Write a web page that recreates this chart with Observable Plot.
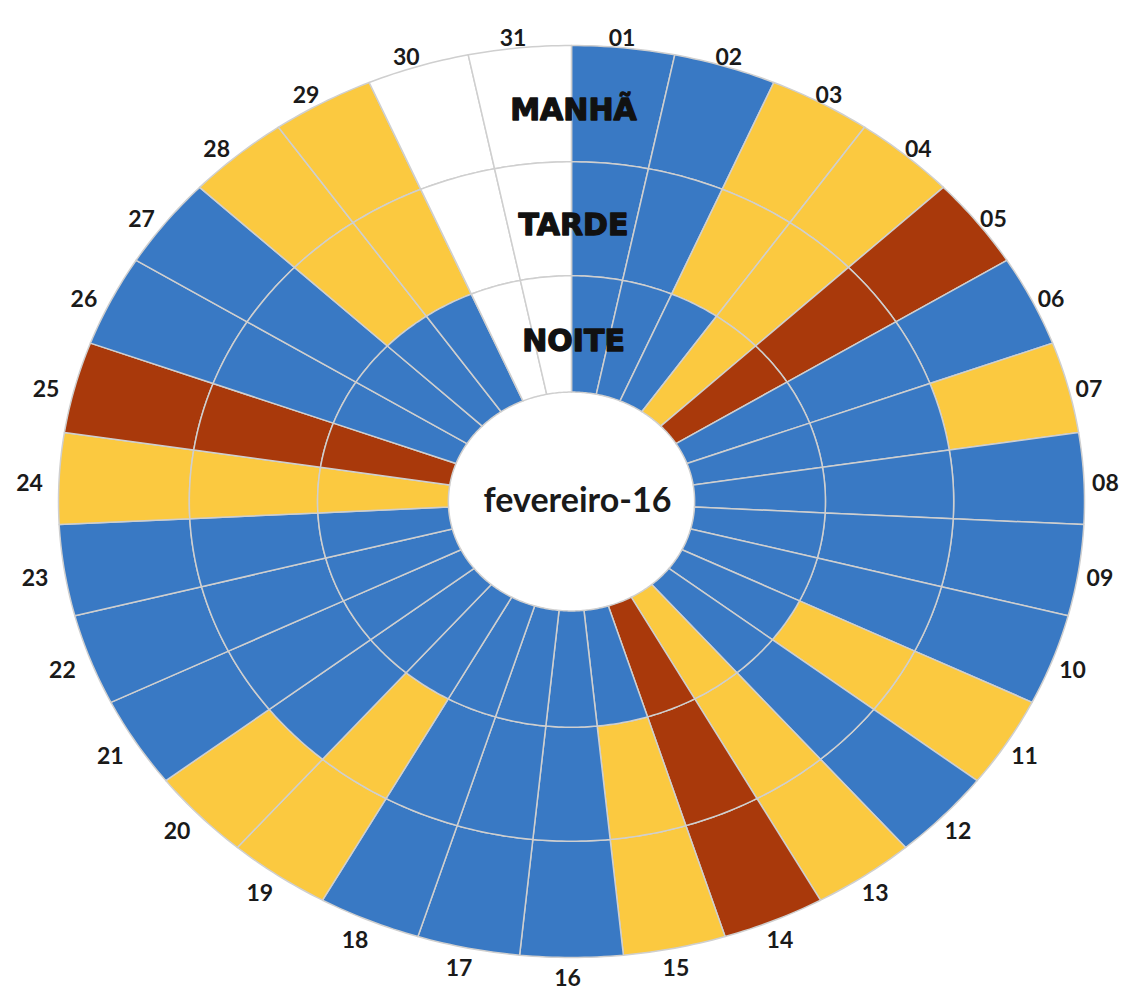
<!DOCTYPE html>
<html>
<head>
<meta charset="utf-8">
<script src="https://cdn.jsdelivr.net/npm/d3@7"></script>
<script src="https://cdn.jsdelivr.net/npm/@observablehq/plot@0.6"></script>
<style>
  html, body { margin: 0; padding: 0; background: #ffffff; }
  #chart svg { display: block; }
</style>
</head>
<body>
<div id="chart"></div>
<script>
// ---------- DATA ----------
const days = ["01","02","03","04","05","06","07","08","09","10","11","12","13","14","15","16",
              "17","18","19","20","21","22","23","24","25","26","27","28","29","30","31"];
const rings = ["MANHÃ", "TARDE", "NOITE"];
// state of each day per period: A = azul, M = amarelo, V = vermelho, B = branco (sem registo)
const manha = ["A","A","M","M","V","A","M","A","A","A","M","A","M","V","M","A","A","A","M","M","A","A","A","M","V","A","A","M","M","B","B"];
const tarde = ["A","A","M","M","V","A","A","A","A","A","M","A","M","V","M","A","A","A","M","A","A","A","A","M","V","A","A","M","M","B","B"];
const noite = ["A","A","A","M","V","A","A","A","A","A","A","A","M","V","A","A","A","A","A","A","A","A","A","M","V","A","A","A","A","B","B"];
const categories = ["A", "M", "V", "B"];
const centerLabel = "fevereiro-16";

// ---------- STYLE / LAYOUT ----------
const palette = ["#3979c4", "#fbc940", "#a9390b", "#ffffff"];
const W = 1125, H = 997;
const cx = 571, cy = 501, rx = 513, ry = 456;
const ringBounds = [[0.745, 1], [0.495, 0.745], [0.24, 0.495]]; // outer -> inner
const ringStates = [manha, tarde, noite];
const step = 2 * Math.PI / days.length;

// polygons (angle, radius) -> unit cartesian; the Plot x/y scales do the rest
const pts = [];
days.forEach((d, i) => {
  ringStates.forEach((states, k) => {
    const [r0, r1] = ringBounds[k];
    const a0 = i * step, a1 = (i + 1) * step, n = 16;
    const poly = [];
    for (let j = 0; j <= n; j++) poly.push([r1, a0 + (a1 - a0) * j / n]);
    for (let j = n; j >= 0; j--) poly.push([r0, a0 + (a1 - a0) * j / n]);
    poly.push(poly[0]);
    for (const [r, a] of poly) pts.push({id: d + "-" + k, state: states[i], x: r * Math.sin(a), y: r * Math.cos(a)});
  });
});

const labelRx = 1.05, labelRy = 1.033;
const dayLabels = days.map((d, i) => {
  const a = (i + 0.5) * step;
  return {text: d, x: labelRx * Math.sin(a), y: labelRy * Math.cos(a)};
});
const ringLabels = rings.map((t, k) => ({text: t, x: 0, y: (ringBounds[k][0] + ringBounds[k][1]) / 2}));

const chart = Plot.plot({
  width: W,
  height: H,
  margin: 0,
  x: {domain: [-cx / rx, (W - cx) / rx], axis: null},
  y: {domain: [-(H - cy) / ry, cy / ry], axis: null},
  color: {domain: categories, range: palette},
  style: {background: "#ffffff"},
  marks: [
    Plot.line(pts, {x: "x", y: "y", z: "id", fill: "state", stroke: "#cfcfcf", strokeWidth: 1.5, strokeLinejoin: "round"}),
    Plot.text(dayLabels, {x: "x", y: "y", text: "text", dx: -4, dy: 6,
      fontFamily: "Lato, 'Open Sans', sans-serif", fontWeight: 700, fontSize: 23, fill: "#1a1a1a"}),
    Plot.text(ringLabels, {x: "x", y: "y", text: "text", dx: 2, dy: 7,
      fontFamily: "'DejaVu Sans', sans-serif", fontWeight: 700, fontSize: 30, fill: "#111111",
      stroke: "#111111", strokeWidth: 1.3}),
    Plot.text([centerLabel], {x: () => 0, y: () => 0, text: d => d, dx: 6, dy: 0,
      fontFamily: "Lato, 'Open Sans', sans-serif", fontWeight: 700, fontSize: 34, fill: "#1a1a1a"})
  ]
});
document.getElementById("chart").appendChild(chart);
</script>
</body>
</html>
